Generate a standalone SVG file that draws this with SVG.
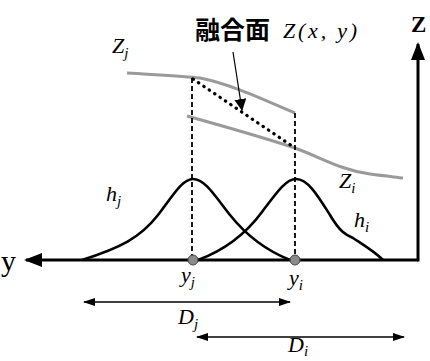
<svg xmlns="http://www.w3.org/2000/svg" width="430" height="361" viewBox="0 0 430 361">
<style>
.surf{fill:none;stroke:#9a9a9a;stroke-width:3}
.dash{fill:none;stroke:#000;stroke-width:1.8;stroke-dasharray:5,3}
.curve{fill:none;stroke:#000;stroke-width:2.6}
.axis{fill:none;stroke:#000;stroke-width:3}
.dim{fill:none;stroke:#000;stroke-width:1.3}
.m{font-family:"Liberation Serif",serif;font-style:italic;font-size:22px;fill:#000}
.sub{font-family:"Liberation Serif",serif;font-style:italic;font-size:15px;fill:#000}
</style>
<defs>
<marker id="ah" markerWidth="12" markerHeight="8" refX="11" refY="4" orient="auto" markerUnits="userSpaceOnUse"><path d="M0,0 L12,4 L0,8 Z" fill="#000"/></marker>
<marker id="ahs" markerWidth="12" markerHeight="8" refX="1" refY="4" orient="auto" markerUnits="userSpaceOnUse"><path d="M12,0 L0,4 L12,8 Z" fill="#000"/></marker>
<marker id="big" markerWidth="18" markerHeight="14" refX="16" refY="7" orient="auto" markerUnits="userSpaceOnUse"><path d="M0,0 L18,7 L0,14 Z" fill="#000"/></marker>
<marker id="mid" markerWidth="12" markerHeight="12" refX="11" refY="6" orient="auto" markerUnits="userSpaceOnUse"><path d="M0,0 L12,6 L0,12 Z" fill="#000"/></marker>
</defs>
<g id="connectors">
<path class="surf" d="M127,73 C160,75 185,76 200,78 C230,84 260,98 295,113"/>
<path class="surf" d="M187,116 C230,128 265,138 295,148 C320,157 340,170 370,174 C385,176 395,177 403,178"/>
<line class="dash" x1="192" y1="78" x2="192" y2="260"/>
<line class="dash" x1="295" y1="113" x2="295" y2="260"/>
<line x1="193" y1="79" x2="295" y2="148" stroke="#000" stroke-width="3.2" stroke-dasharray="0.5,6" stroke-linecap="round"/>
<line x1="233" y1="52" x2="242" y2="110" stroke="#000" stroke-width="1.2" marker-end="url(#mid)"/>
<path class="axis" d="M417,260 L418,260 L418,44" marker-end="url(#big)"/>
<line class="axis" x1="418" y1="260" x2="26" y2="260" marker-end="url(#big)"/>
<path class="curve" d="M82,260 C120,248 140,238 158,215 C172,197 182,179 193,179 C205,179 215,196 230,215 C250,240 270,252 290,260"/>
<path class="curve" d="M198,260 C225,250 245,235 262,212 C277,192 286,179 296,179 C308,179 318,196 330,215 C340,232 346,235 353,238 C365,246 375,252 383,260"/>
<line class="dim" x1="84" y1="302" x2="290" y2="302" marker-start="url(#ahs)" marker-end="url(#ah)"/>
<line class="dim" x1="197" y1="337" x2="404" y2="337" marker-start="url(#ahs)" marker-end="url(#ah)"/>
</g>
<g id="node-yj-point"><circle cx="193" cy="260" r="5" fill="#8a8a8a" stroke="#444" stroke-width="1"/></g>
<g id="node-yi-point"><circle cx="295" cy="260" r="5" fill="#8a8a8a" stroke="#444" stroke-width="1"/></g>
<g id="labels">
<text x="195" y="39" font-family="'Noto Sans CJK JP','Noto Sans CJK SC',sans-serif" font-weight="bold" font-size="25" fill="#000">融合面</text>
<text x="283" y="38" class="m" textLength="74" lengthAdjust="spacing">Z(x, y)</text>
<text x="411" y="32" font-family="'Liberation Serif',serif" font-weight="bold" font-size="23" fill="#000">Z</text>
<text x="1" y="271" font-family="'Liberation Serif',serif" font-size="30" fill="#000">y</text>
<text x="112" y="53" class="m">Z<tspan class="sub" dy="5">j</tspan></text>
<text x="339" y="188" class="m">Z<tspan class="sub" dy="5">i</tspan></text>
<text x="106" y="201" class="m">h<tspan class="sub" dy="5">j</tspan></text>
<text x="354" y="227" class="m">h<tspan class="sub" dy="5">i</tspan></text>
<text x="181" y="282" class="m">y<tspan class="sub" dy="5">j</tspan></text>
<text x="289" y="285" class="m">y<tspan class="sub" dy="5">i</tspan></text>
<text x="178" y="324" class="m">D<tspan class="sub" dy="5">j</tspan></text>
<text x="288" y="352" class="m">D<tspan class="sub" dy="4">i</tspan></text>
</g>
</svg>
